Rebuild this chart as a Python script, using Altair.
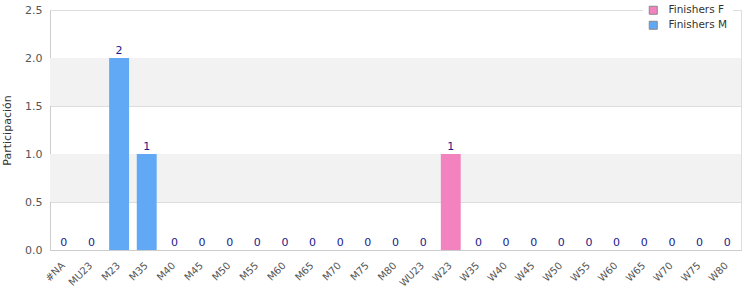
import altair as alt
import pandas as pd

categories = ["#NA", "MU23", "M23", "M35", "M40", "M45", "M50", "M55", "M60", "M65",
              "M70", "M75", "M80", "WU23", "W23", "W35", "W40", "W45", "W50", "W55",
              "W60", "W65", "W70", "W75", "W80"]
finishers_f = [0, 0, 0, 0, 0, 0, 0, 0, 0, 0, 0, 0, 0, 0, 1, 0, 0, 0, 0, 0, 0, 0, 0, 0, 0]
finishers_m = [0, 0, 2, 1, 0, 0, 0, 0, 0, 0, 0, 0, 0, 0, 0, 0, 0, 0, 0, 0, 0, 0, 0, 0, 0]
series_names = ["Finishers F", "Finishers M"]
series_colors = ["#f383bf", "#62a9f5"]
band_lo = [0.5, 1.5]
band_hi = [1.0, 2.0]
y_ticks = [0, 0.5, 1.0, 1.5, 2.0, 2.5]

rows = []
for c, f, m in zip(categories, finishers_f, finishers_m):
    rows.append({"cat": c, "series": "Finishers F", "value": f})
    rows.append({"cat": c, "series": "Finishers M", "value": m})
df = pd.DataFrame(rows)
tot = pd.DataFrame({"cat": categories,
                    "total": [f + m for f, m in zip(finishers_f, finishers_m)]})
bands = pd.DataFrame({"lo": band_lo, "hi": band_hi})

FONT = "DejaVu Sans"

xenc = alt.X("cat:N", sort=categories, scale=alt.Scale(domain=categories, paddingInner=0.28, paddingOuter=0.14),
             axis=alt.Axis(title=None, labelAngle=-45, labelColor="#555", labelFontSize=10,
                           ticks=False, domainColor="#cccccc", labelPadding=10, labelOffset=-4))
yscale = alt.Scale(domain=[0, 2.5], nice=False)

band_layer = alt.Chart(bands).mark_rect(color="#f2f2f2").encode(
    y=alt.Y("lo:Q", scale=yscale), y2="hi:Q")

bars = alt.Chart(df).mark_bar().encode(
    x=xenc,
    y=alt.Y("sum(value):Q", scale=yscale, stack="zero",
            axis=alt.Axis(title="Participación", values=y_ticks, format=".1f",
                          labelColor="#555", labelFontSize=11, ticks=False,
                          domainColor="#cccccc", gridColor="#dddddd", labelPadding=8,
                          titleColor="#333", titleFontSize=11, titleFontWeight="normal",
                          titlePadding=12)),
    color=alt.Color("series:N", scale=alt.Scale(domain=series_names, range=series_colors),
                    legend=alt.Legend(title=None, orient="none", legendX=593, legendY=-10,
                                      symbolType="square", symbolSize=64,
                                      symbolStrokeColor="#888", symbolStrokeWidth=1,
                                      labelFontSize=10.5, labelColor="#333", labelOffset=10,
                                      fillColor="white", padding=5, rowPadding=2,
                                      labelFont=FONT)),
    order=alt.Order("series:N"),
)

labels = alt.Chart(tot).mark_text(dy=-7, color="#1a1a8a", fontSize=11, font=FONT).encode(
    x=alt.X("cat:N", sort=categories),
    y=alt.Y("total:Q", scale=yscale),
    text="total:Q",
)

chart = alt.layer(band_layer, bars, labels).properties(
    width=691, height=240,
    autosize=alt.AutoSizeParams(type="none"),
    padding={"left": 50, "top": 10, "right": 9, "bottom": 50},
).configure_view(stroke="#dddddd").configure(font=FONT)

chart.save("out.html", embed_options={"renderer": "svg", "actions": False})
